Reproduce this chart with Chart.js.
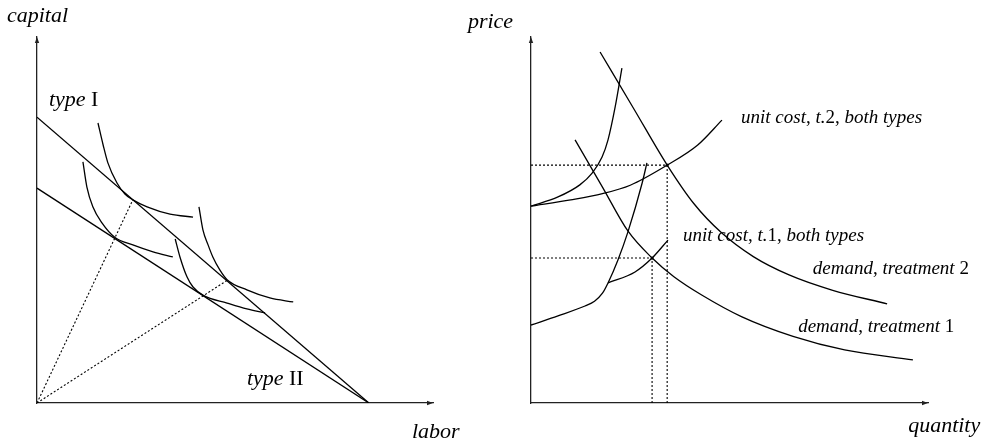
<!DOCTYPE html>
<html>
<head>
<meta charset="utf-8">
<script src="https://cdn.jsdelivr.net/npm/chart.js@4"></script>
<style>
  html, body { margin: 0; padding: 0; background: #fff; }
  #wrap { width: 990px; height: 444px; display: flex; }
  canvas { display: block; }
</style>
</head>
<body>
<div id="wrap">
  <canvas id="left" width="463" height="444"></canvas>
  <canvas id="right" width="527" height="444"></canvas>
</div>
<script>
// ---------- LEFT PANEL DATA (labor on x, capital on y; arbitrary units 0..10) ----------
const typeILine      = [{x: 0, y: 7.81}, {x: 8.38, y: 0}];
const typeIILine     = [{x: 0, y: 5.87}, {x: 8.38, y: 0}];
const rayOne         = [{x: 0, y: 0}, {x: 2.42, y: 5.55}];
const rayTwo         = [{x: 0, y: 0}, {x: 4.80, y: 3.35}];
const isoquantA = [
  {x: 1.54, y: 7.65}, {x: 1.67, y: 7.05}, {x: 1.79, y: 6.56}, {x: 2.02, y: 6.01},
  {x: 2.22, y: 5.71}, {x: 2.42, y: 5.55}, {x: 2.78, y: 5.36}, {x: 3.36, y: 5.16}, {x: 3.94, y: 5.08}
];
const isoquantB = [
  {x: 1.16, y: 6.59}, {x: 1.26, y: 5.90}, {x: 1.41, y: 5.36}, {x: 1.64, y: 4.92},
  {x: 1.97, y: 4.52}, {x: 2.42, y: 4.32}, {x: 2.93, y: 4.13}, {x: 3.43, y: 3.99}
];
const isoquantC = [
  {x: 4.09, y: 5.36}, {x: 4.19, y: 4.73}, {x: 4.32, y: 4.32}, {x: 4.44, y: 3.99},
  {x: 4.62, y: 3.63}, {x: 4.80, y: 3.37}, {x: 5.30, y: 3.09}, {x: 5.88, y: 2.87}, {x: 6.47, y: 2.76}
];
const isoquantD = [
  {x: 3.49, y: 4.48}, {x: 3.61, y: 3.99}, {x: 3.79, y: 3.44}, {x: 3.94, y: 3.17},
  {x: 4.20, y: 2.94}, {x: 4.80, y: 2.73}, {x: 5.30, y: 2.57}, {x: 5.76, y: 2.46}
];
const leftAxisTitles = [
  {parts: [["capital", true]], x: -0.76, y: 10.41},
  {parts: [["labor", true]],   x: 9.47,  y: -0.96}
];
const leftLabels = [
  {parts: [["type", true], [" I", false]],  x: 0.30, y: 8.11},
  {parts: [["type", true], [" II", false]], x: 5.30, y: 0.49}
];

// ---------- RIGHT PANEL DATA (quantity on x, price on y; arbitrary units 0..10) ----------
const demandT2 = [
  {x: 1.74, y: 9.59}, {x: 2.60, y: 8.02}, {x: 3.43, y: 6.50}, {x: 4.10, y: 5.45},
  {x: 4.80, y: 4.65}, {x: 5.60, y: 4.00}, {x: 6.50, y: 3.50}, {x: 7.60, y: 3.08}, {x: 8.97, y: 2.71}
];
const demandT1 = [
  {x: 1.11, y: 7.19}, {x: 1.80, y: 5.90}, {x: 2.44, y: 4.70}, {x: 3.05, y: 3.96},
  {x: 3.60, y: 3.45}, {x: 4.30, y: 2.95}, {x: 5.30, y: 2.36}, {x: 6.60, y: 1.82},
  {x: 7.90, y: 1.45}, {x: 9.62, y: 1.18}
];
const costT2Steep = [
  {x: 0, y: 5.38}, {x: 0.68, y: 5.63}, {x: 1.23, y: 5.96}, {x: 1.54, y: 6.28},
  {x: 1.79, y: 6.72}, {x: 1.94, y: 7.19}, {x: 2.12, y: 8.09}, {x: 2.29, y: 9.15}
];
const costT2Flat = [
  {x: 0, y: 5.38}, {x: 1.00, y: 5.55}, {x: 1.80, y: 5.72}, {x: 2.50, y: 5.95},
  {x: 3.43, y: 6.50}, {x: 4.20, y: 7.05}, {x: 4.81, y: 7.73}
];
const costT1Steep = [
  {x: 0, y: 2.13}, {x: 0.68, y: 2.38}, {x: 1.36, y: 2.65}, {x: 1.60, y: 2.78},
  {x: 1.80, y: 3.00}, {x: 1.94, y: 3.28}, {x: 2.19, y: 3.91}, {x: 2.44, y: 4.67},
  {x: 2.80, y: 6.01}, {x: 2.92, y: 6.56}
];
const costT1Branch = [
  {x: 1.94, y: 3.28}, {x: 2.62, y: 3.58}, {x: 3.05, y: 3.96}, {x: 3.45, y: 4.45}
];
const equilibriumT2 = {x: 3.43, y: 6.50};
const equilibriumT1 = {x: 3.05, y: 3.96};
const rightAxisTitles = [
  {parts: [["price", true]],    x: -1.59, y: 10.25},
  {parts: [["quantity", true]], x: 9.50,  y: -0.79}
];
const rightLabels = [
  {parts: [["unit cost", true], [", ", false], ["t.", true], ["2", false], [", ", false], ["both types", true]], x: 5.29, y: 7.65},
  {parts: [["unit cost", true], [", ", false], ["t.", true], ["1", false], [", ", false], ["both types", true]], x: 3.83, y: 4.43},
  {parts: [["demand", true], [", ", false], ["treatment", true], [" 2", false]], x: 7.10, y: 3.52},
  {parts: [["demand", true], [", ", false], ["treatment", true], [" 1", false]], x: 6.73, y: 1.94}
];

// ---------- helpers ----------
const SERIF = '"Liberation Serif", "Times New Roman", serif';
function drawRich(ctx, parts, x, y, size) {
  let cx = x;
  ctx.textBaseline = 'alphabetic';
  ctx.textAlign = 'left';
  ctx.fillStyle = '#000';
  for (const [t, it] of parts) {
    ctx.font = (it ? 'italic ' : '') + size + 'px ' + SERIF;
    ctx.fillText(t, cx, y);
    cx += ctx.measureText(t).width;
  }
}
function curve(data, smooth) {
  return {
    data, showLine: true, borderColor: '#000', borderWidth: 1.3, pointRadius: 0,
    fill: false, tension: 0, cubicInterpolationMode: smooth ? 'monotone' : 'default'
  };
}
function dotted(data, w) {
  return {
    data, showLine: true, borderColor: '#000', borderWidth: w || 1.1, borderDash: [2, 2],
    pointRadius: 0, fill: false, tension: 0
  };
}
function dotPoint(p) {
  return {data: [p], showLine: false, pointRadius: 1.6, pointBackgroundColor: '#000', pointBorderWidth: 0};
}
function textPlugin(axisTitles, labels, size, titleSize) {
  return {
    id: 'texts',
    afterDatasetsDraw(chart) {
      const {ctx, scales: {x, y}} = chart;
      ctx.save();
      for (const l of labels) drawRich(ctx, l.parts, x.getPixelForValue(l.x), y.getPixelForValue(l.y), size);
      for (const l of axisTitles) drawRich(ctx, l.parts, x.getPixelForValue(l.x), y.getPixelForValue(l.y), titleSize);
      // arrowheads on the axes
      ctx.fillStyle = '#222';
      const x0 = x.getPixelForValue(0), y0 = y.getPixelForValue(0);
      const xm = x.getPixelForValue(x.max), ym = y.getPixelForValue(y.max);
      ctx.beginPath();
      ctx.moveTo(x0, ym); ctx.lineTo(x0 - 2.2, ym + 6); ctx.lineTo(x0 + 2.2, ym + 6); ctx.closePath(); ctx.fill();
      ctx.beginPath();
      ctx.moveTo(xm, y0); ctx.lineTo(xm - 6, y0 - 2.2); ctx.lineTo(xm - 6, y0 + 2.2); ctx.closePath(); ctx.fill();
      ctx.restore();
    }
  };
}
function makeOptions(pad) {
  const axisCommon = {
    type: 'linear', min: 0, max: 10, display: true,
    grid: {display: false, drawTicks: false},
    ticks: {display: false},
    border: {display: true, color: '#222', width: 1.3}
  };
  return {
    responsive: false, animation: false, devicePixelRatio: 1,
    layout: {padding: pad},
    plugins: {legend: {display: false}, tooltip: {enabled: false}},
    events: [],
    scales: {
      x: Object.assign({}, axisCommon, {position: 'bottom', afterFit(s) { s.height = 0; }}),
      y: Object.assign({}, axisCommon, {position: 'left', afterFit(s) { s.width = 0; }})
    }
  };
}

// ---------- LEFT CHART ----------
new Chart(document.getElementById('left'), {
  type: 'scatter',
  data: {datasets: [
    curve(typeILine, false), curve(typeIILine, false),
    dotted(rayOne), dotted(rayTwo),
    curve(isoquantA, true), curve(isoquantB, true), curve(isoquantC, true), curve(isoquantD, true)
  ]},
  options: makeOptions({left: 37, top: 37, right: 30, bottom: 41}),
  plugins: [textPlugin(leftAxisTitles, leftLabels, 22, 22)]
});

// ---------- RIGHT CHART ----------
new Chart(document.getElementById('right'), {
  type: 'scatter',
  data: {datasets: [
    curve(demandT2, true), curve(demandT1, true),
    curve(costT2Steep, true), curve(costT2Flat, true),
    curve(costT1Steep, true), curve(costT1Branch, true),
    dotted([{x: 0, y: equilibriumT2.y}, equilibriumT2, {x: equilibriumT2.x, y: 0}]),
    dotted([{x: 0, y: equilibriumT1.y}, equilibriumT1, {x: equilibriumT1.x, y: 0}]),
    dotPoint(equilibriumT2), dotPoint(equilibriumT1)
  ]},
  options: makeOptions({left: 68, top: 37, right: 62, bottom: 41}),
  plugins: [textPlugin(rightAxisTitles, rightLabels, 19, 22)]
});
</script>
</body>
</html>
